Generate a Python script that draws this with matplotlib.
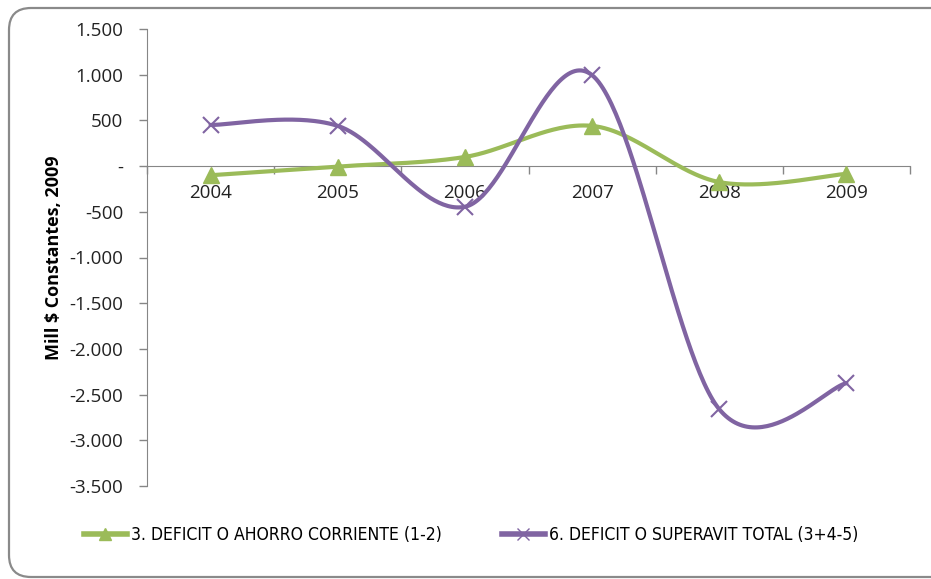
import numpy as np
import matplotlib
matplotlib.use("Agg")
import matplotlib.pyplot as plt
from matplotlib.patches import FancyBboxPatch
from matplotlib.transforms import IdentityTransform
from matplotlib.lines import Line2D

# ---- data ----
years = ["2004", "2005", "2006", "2007", "2008", "2009"]
ahorro_corriente = [-100, -5, 100, 440, -175, -85]
superavit_total = [450, 440, -445, 995, -2660, -2375]
series_names = ["3. DEFICIT O AHORRO CORRIENTE (1-2)", "6. DEFICIT O SUPERAVIT TOTAL (3+4-5)"]
y_ticks = [1500, 1000, 500, 0, -500, -1000, -1500, -2000, -2500, -3000, -3500]
y_tick_labels = ["1.500", "1.000", "500", "-", "-500", "-1.000", "-1.500", "-2.000", "-2.500", "-3.000", "-3.500"]
y_label = "Mill $ Constantes, 2009"

GREEN = "#9BBB59"
PURPLE = "#8064A2"
AXGRAY = "#868686"
FONT = ["Open Sans", "DejaVu Sans"]


def smooth(xs, ys, n=60):
    """Excel-like smoothed line (Catmull-Rom Bezier)."""
    P = np.column_stack([xs, ys]).astype(float)
    m = len(P)
    outx, outy = [], []
    for i in range(m - 1):
        p0 = P[i - 1] if i > 0 else P[i]
        p1 = P[i]
        p2 = P[i + 1]
        p3 = P[i + 2] if i + 2 < m else P[i + 1]
        c1 = p1 + (p2 - p0) / 6.0
        c2 = p2 - (p3 - p1) / 6.0
        t = np.linspace(0, 1, n)[:, None]
        b = (1 - t) ** 3 * p1 + 3 * (1 - t) ** 2 * t * c1 + 3 * (1 - t) * t ** 2 * c2 + t ** 3 * p2
        outx.extend(b[:, 0]); outy.extend(b[:, 1])
    return np.array(outx), np.array(outy)


fig = plt.figure(figsize=(9.31, 5.79), dpi=100)
ax = fig.add_axes([147 / 931, 1 - 486 / 579, 763 / 931, 457 / 579])

x = np.arange(len(years))
for vals, color, marker, ms, mew in [
    (ahorro_corriente, GREEN, "^", 12, 1),
    (superavit_total, PURPLE, "x", 12, 1.5),
]:
    sx, sy = smooth(x, vals)
    ax.plot(sx, sy, color=color, lw=3, solid_capstyle="round", zorder=3)
    ax.plot(x, vals, linestyle="none", marker=marker, color=color, ms=ms, mew=mew, zorder=4)

ax.set_xlim(-0.5, len(years) - 0.5)
ax.set_ylim(-3500, 1500)

# y axis
ax.set_yticks(y_ticks)
ax.set_yticklabels(y_tick_labels, family=FONT, fontsize=13.5, color="#222222")
ax.tick_params(axis="y", direction="out", length=6, width=1, color=AXGRAY, pad=11)
ax.set_ylabel(y_label, family=FONT, fontsize=13, fontweight="bold", labelpad=5)

# x axis at zero
for s in ["top", "right"]:
    ax.spines[s].set_visible(False)
ax.spines["left"].set_color(AXGRAY)
ax.spines["bottom"].set_color(AXGRAY)
ax.spines["bottom"].set_position(("data", 0))
ax.set_xticks(np.arange(len(years) + 1) - 0.5)
ax.set_xticklabels([])
ax.tick_params(axis="x", which="major", direction="out", length=6, width=1, color=AXGRAY)
ax.set_xticks(x, minor=True)
ax.set_xticklabels(years, minor=True, family=FONT, fontsize=13.5, color="#222222")
ax.tick_params(axis="x", which="minor", length=0, pad=13)
ax.set_facecolor("none")

# legend
handles = [
    Line2D([], [], color=GREEN, lw=4, marker="^", ms=9),
    Line2D([], [], color=PURPLE, lw=4, marker="x", ms=9, mew=1),
]
fig.legend(handles, series_names, loc="center", bbox_to_anchor=(0.506, 1 - 535 / 579),
           ncol=2, frameon=False,
           prop={"family": "DejaVu Sans", "stretch": "condensed", "size": 12.6},
           handlelength=2.5, handletextpad=0.22, columnspacing=3.4)

# rounded border
border = FancyBboxPatch((9, 2), 950, 569, boxstyle="round,pad=0,rounding_size=22",
                        transform=IdentityTransform(), facecolor="none",
                        edgecolor="#8a8a8a", lw=1.6)
fig.add_artist(border)

fig.savefig("out.png", dpi=100)
